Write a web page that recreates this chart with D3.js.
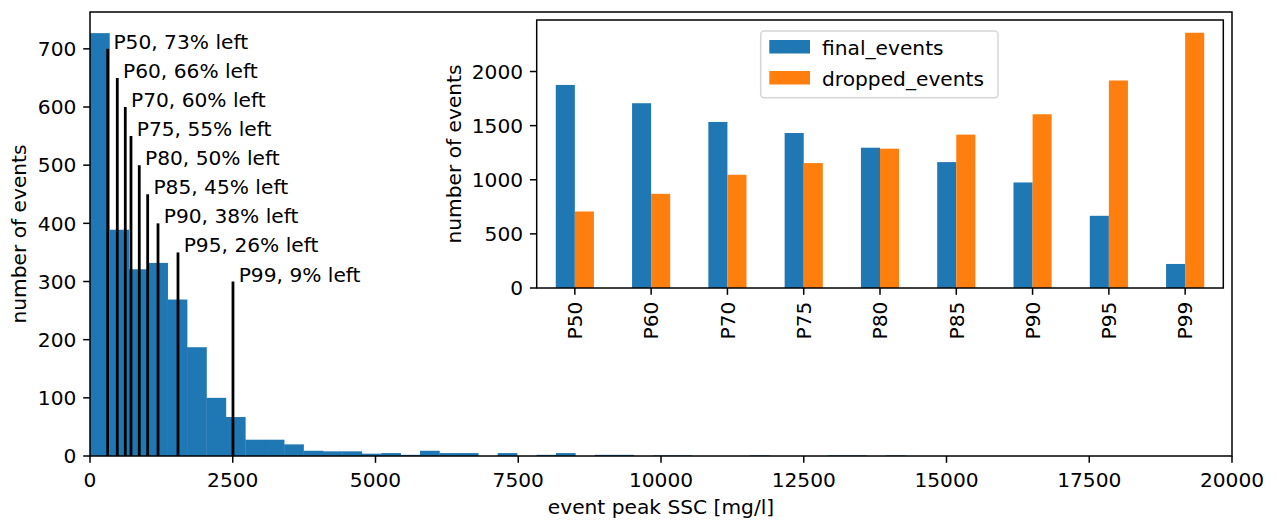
<!DOCTYPE html>
<html>
<head>
<meta charset="utf-8">
<script src="https://cdn.jsdelivr.net/npm/d3@7"></script>
<style>
  body { margin: 0; background: #fff; }
  svg text { font-family: "DejaVu Sans", sans-serif; font-size: 20.2px; fill: #000; }
</style>
</head>
<body>
<div id="chart"></div>
<script>
// histogram of event peak SSC (mg/l), fixed bin width starting at 0
const binWidth = 340;
const binCounts = [727, 389, 321, 332, 269, 187, 100, 67, 28, 28, 20, 9, 8, 8, 4, 5, 2, 9, 5, 5,
                   0, 5, 0, 2, 5, 0, 2, 2, 0, 1, 1, 0, 0, 0, 1, 0, 0, 0, 1, 1, 0, 1];

// percentile thresholds drawn as vertical lines
const pctNames = ['P50', 'P60', 'P70', 'P75', 'P80', 'P85', 'P90', 'P95', 'P99'];
const pctValues = [310, 478, 618, 718, 863, 1010, 1191, 1541, 2504];
const pctLineTops = [700, 650, 600, 550, 500, 450, 400, 350, 300];
const pctLeft = [73, 66, 60, 55, 50, 45, 38, 26, 9];

// inset: events kept / dropped per threshold
const finalEvents = [1876, 1707, 1534, 1432, 1296, 1163, 975, 667, 222];
const droppedEvents = [707, 870, 1046, 1154, 1287, 1417, 1605, 1917, 2358];

const xTicks = [0, 2500, 5000, 7500, 10000, 12500, 15000, 17500, 20000];
const yTicks = [0, 100, 200, 300, 400, 500, 600, 700];
const insetYTicks = [0, 500, 1000, 1500, 2000];

const W = 1277, H = 520;
const blue = '#1f77b4', orange = '#ff7f0e';
const lw = 1.5, tickLen = 6.8, tickPad = 6.8;

const svg = d3.select('#chart').append('svg')
              .attr('width', W)
              .attr('height', H);

// ---- main histogram ----
const m = {left: 90, right: 1232, top: 12, bottom: 456};
const x = d3.scaleLinear().domain([0, 20000]).range([m.left, m.right]);
const y = d3.scaleLinear().domain([0, 727 * 1.05]).range([m.bottom, m.top]);

svg.append('defs').append('clipPath').attr('id', 'mainclip')
   .append('rect')
   .attr('x', m.left).attr('y', m.top)
   .attr('width', m.right - m.left).attr('height', m.bottom - m.top);

const bins = binCounts.map((c, i) => ({x0: i * binWidth, x1: (i + 1) * binWidth, n: c}));

svg.append('g')
   .attr('clip-path', 'url(#mainclip)')
   .selectAll('rect')
   .data(bins.filter(d => d.n > 0))
   .enter().append('rect')
   .attr('x', d => x(d.x0))
   .attr('width', d => x(d.x1) - x(d.x0) + 0.3)
   .attr('y', d => y(d.n))
   .attr('height', d => y(0) - y(d.n))
   .attr('fill', blue);

// percentile lines + labels
const pct = pctNames.map((n, i) => ({name: n, v: pctValues[i], top: pctLineTops[i], left: pctLeft[i]}));

svg.append('g').selectAll('line')
   .data(pct)
   .enter().append('line')
   .attr('x1', d => x(d.v)).attr('x2', d => x(d.v))
   .attr('y1', y(0)).attr('y2', d => y(d.top))
   .attr('stroke', '#000')
   .attr('stroke-width', 2.8);

svg.append('g').selectAll('text')
   .data(pct)
   .enter().append('text')
   .attr('x', d => x(d.v + 100))
   .attr('y', d => y(d.top))
   .text(d => `${d.name}, ${d.left}% left`);

// frame
svg.append('rect')
   .attr('x', m.left).attr('y', m.top)
   .attr('width', m.right - m.left).attr('height', m.bottom - m.top)
   .attr('fill', 'none').attr('stroke', '#000').attr('stroke-width', lw);

// x axis ticks
const gx = svg.append('g');
gx.selectAll('line').data(xTicks).enter().append('line')
  .attr('x1', d => x(d)).attr('x2', d => x(d))
  .attr('y1', m.bottom).attr('y2', m.bottom + tickLen)
  .attr('stroke', '#000').attr('stroke-width', lw);
gx.selectAll('text').data(xTicks).enter().append('text')
  .attr('x', d => x(d))
  .attr('y', m.bottom + tickLen + tickPad + 17.5)
  .attr('text-anchor', 'middle')
  .text(d => d);

// y axis ticks
const gy = svg.append('g');
gy.selectAll('line').data(yTicks).enter().append('line')
  .attr('x1', m.left - tickLen).attr('x2', m.left)
  .attr('y1', d => y(d)).attr('y2', d => y(d))
  .attr('stroke', '#000').attr('stroke-width', lw);
gy.selectAll('text').data(yTicks).enter().append('text')
  .attr('x', m.left - tickLen - tickPad)
  .attr('y', d => y(d))
  .attr('dy', '0.36em')
  .attr('text-anchor', 'end')
  .text(d => d);

svg.append('text')
   .attr('x', (m.left + m.right) / 2)
   .attr('y', 514)
   .attr('text-anchor', 'middle')
   .text('event peak SSC [mg/l]');

svg.append('text')
   .attr('transform', `translate(18.5,${(m.top + m.bottom) / 2}) rotate(-90)`)
   .attr('dy', '0.36em')
   .attr('text-anchor', 'middle')
   .text('number of events');

// ---- inset bar chart ----
const ins = {left: 536.7, right: 1223.3, top: 20, bottom: 288};
const xb = d3.scaleBand().domain(pctNames).range([ins.left, ins.right]).padding(0);
const yb = d3.scaleLinear().domain([0, 2358 * 1.05]).range([ins.bottom, ins.top]);
const bw = xb.bandwidth() * 0.25;

svg.append('rect')
   .attr('x', ins.left).attr('y', ins.top)
   .attr('width', ins.right - ins.left).attr('height', ins.bottom - ins.top)
   .attr('fill', '#fff');

const groups = pctNames.map((n, i) => ({name: n, fin: finalEvents[i], drop: droppedEvents[i]}));

svg.append('g').selectAll('rect.fin')
   .data(groups)
   .enter().append('rect')
   .attr('x', d => xb(d.name) + xb.bandwidth() / 2 - bw)
   .attr('width', bw)
   .attr('y', d => yb(d.fin))
   .attr('height', d => yb(0) - yb(d.fin))
   .attr('fill', blue);

svg.append('g').selectAll('rect.drop')
   .data(groups)
   .enter().append('rect')
   .attr('x', d => xb(d.name) + xb.bandwidth() / 2)
   .attr('width', bw)
   .attr('y', d => yb(d.drop))
   .attr('height', d => yb(0) - yb(d.drop))
   .attr('fill', orange);

svg.append('rect')
   .attr('x', ins.left).attr('y', ins.top)
   .attr('width', ins.right - ins.left).attr('height', ins.bottom - ins.top)
   .attr('fill', 'none').attr('stroke', '#000').attr('stroke-width', lw);

const ibx = svg.append('g');
ibx.selectAll('line').data(pctNames).enter().append('line')
   .attr('x1', d => xb(d) + xb.bandwidth() / 2).attr('x2', d => xb(d) + xb.bandwidth() / 2)
   .attr('y1', ins.bottom).attr('y2', ins.bottom + tickLen)
   .attr('stroke', '#000').attr('stroke-width', lw);
ibx.selectAll('text').data(pctNames).enter().append('text')
   .attr('transform', d => `translate(${xb(d) + xb.bandwidth() / 2},${ins.bottom + tickLen + tickPad}) rotate(-90)`)
   .attr('dy', '0.36em')
   .attr('text-anchor', 'end')
   .text(d => d);

const iby = svg.append('g');
iby.selectAll('line').data(insetYTicks).enter().append('line')
   .attr('x1', ins.left - tickLen).attr('x2', ins.left)
   .attr('y1', d => yb(d)).attr('y2', d => yb(d))
   .attr('stroke', '#000').attr('stroke-width', lw);
iby.selectAll('text').data(insetYTicks).enter().append('text')
   .attr('x', ins.left - tickLen - tickPad)
   .attr('y', d => yb(d))
   .attr('dy', '0.36em')
   .attr('text-anchor', 'end')
   .text(d => d);

svg.append('text')
   .attr('transform', `translate(454,${(ins.top + ins.bottom) / 2}) rotate(-90)`)
   .attr('dy', '0.36em')
   .attr('text-anchor', 'middle')
   .text('number of events');

// legend
const legend = svg.append('g');
legend.append('rect')
      .attr('x', 760.7).attr('y', 31)
      .attr('width', 237.3).attr('height', 66.7)
      .attr('rx', 3.5)
      .attr('fill', '#fff').attr('fill-opacity', 0.8)
      .attr('stroke', '#d6d6d6').attr('stroke-width', 1.5);
const legItems = [{label: 'final_events', color: blue}, {label: 'dropped_events', color: orange}];
legItems.forEach((d, i) => {
  legend.append('rect')
        .attr('x', 769.3).attr('y', 40 + i * 31)
        .attr('width', 40.7).attr('height', 13.5)
        .attr('fill', d.color);
  legend.append('text')
        .attr('x', 822).attr('y', 55 + i * 30.5)
        .text(d.label);
});
</script>
</body>
</html>
